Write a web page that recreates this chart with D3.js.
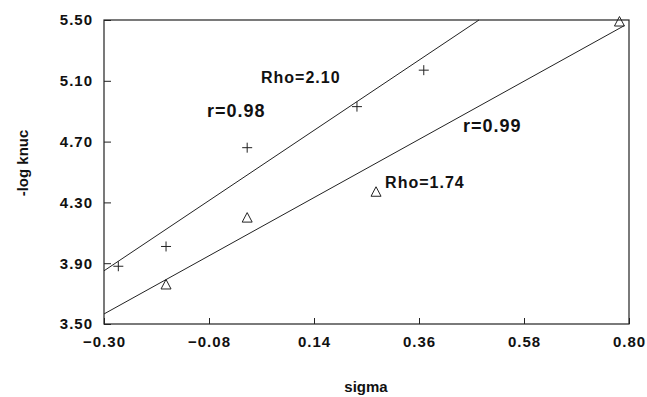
<!DOCTYPE html>
<html>
<head>
<meta charset="utf-8">
<script src="https://cdn.jsdelivr.net/npm/d3@7"></script>
<style>
  body { margin: 0; background: #fff; }
  svg text { font-family: "Liberation Sans", Arial, sans-serif; fill: #111; }
</style>
</head>
<body>
<div id="chart"></div>
<script>
const xTicks = [-0.30, -0.08, 0.14, 0.36, 0.58, 0.80];
const yTicks = [3.50, 3.90, 4.30, 4.70, 5.10, 5.50];

// Rho=2.10 series (plus markers)
const plusSigma = [-0.27, -0.17, 0.00, 0.23, 0.37];
const plusLogK = [3.88, 4.01, 4.66, 4.93, 5.17];

// Rho=1.74 series (triangle markers)
const triSigma = [-0.17, 0.00, 0.27, 0.78];
const triLogK = [3.76, 4.20, 4.37, 5.49];

// regression lines: slope, intercept, sigma range
const fitRho = [2.10, 1.74];
const fitIntercept = [4.48, 4.088];
const fitEnd = [0.80, 0.79];

const labels = [
  { text: 'Rho=2.10', x: 0.029, y: 5.086, size: 16 },
  { text: 'r=0.98', x: -0.084, y: 4.862, size: 18 },
  { text: 'r=0.99', x: 0.452, y: 4.763, size: 18 },
  { text: 'Rho=1.74', x: 0.289, y: 4.395, size: 16 }
];

const svg = d3.select('#chart')
  .append('svg')
  .attr('width', 647)
  .attr('height', 397);

const margin = { top: 20, right: 18, bottom: 73, left: 104 };
const width = +svg.attr('width') - margin.left - margin.right;
const height = +svg.attr('height') - margin.top - margin.bottom;

const x = d3.scaleLinear().domain([-0.30, 0.80]).range([0, width]);
const y = d3.scaleLinear().domain([3.50, 5.50]).range([height, 0]);

const g = svg.append('g')
  .attr('transform', `translate(${margin.left},${margin.top})`);

// frame
g.append('rect')
  .attr('width', width)
  .attr('height', height)
  .attr('fill', 'none')
  .attr('stroke', '#222')
  .attr('stroke-width', 1.2);

// x axis (ticks pointing in)
const xAxis = g.append('g')
  .attr('transform', `translate(0,${height})`)
  .call(d3.axisBottom(x).tickValues(xTicks).tickSizeInner(-6).tickSizeOuter(0)
    .tickPadding(14).tickFormat(d3.format('.2f')));
xAxis.select('.domain').remove();
xAxis.selectAll('text').attr('font-size', 15).attr('font-weight', 'bold')
  .attr('letter-spacing', 1).attr('dy', '0.6em');
xAxis.selectAll('line').attr('stroke', '#222');

// y axis
const yAxis = g.append('g')
  .call(d3.axisLeft(y).tickValues(yTicks).tickSizeInner(-7).tickSizeOuter(0)
    .tickPadding(11).tickFormat(d3.format('.2f')));
yAxis.select('.domain').remove();
yAxis.selectAll('text').attr('font-size', 15).attr('font-weight', 'bold')
  .attr('letter-spacing', 1);
yAxis.selectAll('line').attr('stroke', '#222');

// regression lines
fitRho.forEach((m, i) => {
  const b = fitIntercept[i];
  const xEnd = Math.min(fitEnd[i], (5.50 - b) / m);
  const pts = [[-0.30, b + m * -0.30], [xEnd, b + m * xEnd]];
  g.append('path')
    .datum(pts)
    .attr('fill', 'none')
    .attr('stroke', '#222')
    .attr('stroke-width', 1)
    .attr('d', d3.line().x(d => x(d[0])).y(d => y(d[1])));
});

// plus markers
g.selectAll('.plus')
  .data(plusSigma.map((s, i) => [s, plusLogK[i]]))
  .join('path')
  .attr('class', 'plus')
  .attr('transform', d => `translate(${x(d[0])},${y(d[1])})`)
  .attr('d', 'M-5,0H5M0,-5V5')
  .attr('stroke', '#222')
  .attr('stroke-width', 1);

// triangle markers
g.selectAll('.tri')
  .data(triSigma.map((s, i) => [s, triLogK[i]]))
  .join('path')
  .attr('class', 'tri')
  .attr('transform', d => `translate(${x(d[0])},${y(d[1])})`)
  .attr('d', 'M0,-5L5,4.5H-5Z')
  .attr('fill', 'none')
  .attr('stroke', '#222')
  .attr('stroke-width', 1);

// annotations
g.selectAll('.note')
  .data(labels)
  .join('text')
  .attr('class', 'note')
  .attr('x', d => x(d.x))
  .attr('y', d => y(d.y))
  .attr('font-size', d => d.size)
  .attr('font-weight', 'bold')
  .attr('letter-spacing', 1)
  .text(d => d.text);

// axis titles
svg.append('text')
  .attr('transform', 'translate(28,163) rotate(-90)')
  .attr('text-anchor', 'middle')
  .attr('font-size', 15)
  .attr('font-weight', 'bold')
  .text('-log knuc');

svg.append('text')
  .attr('x', 366)
  .attr('y', 392)
  .attr('text-anchor', 'middle')
  .attr('font-size', 15)
  .attr('font-weight', 'bold')
  .text('sigma');
</script>
</body>
</html>
